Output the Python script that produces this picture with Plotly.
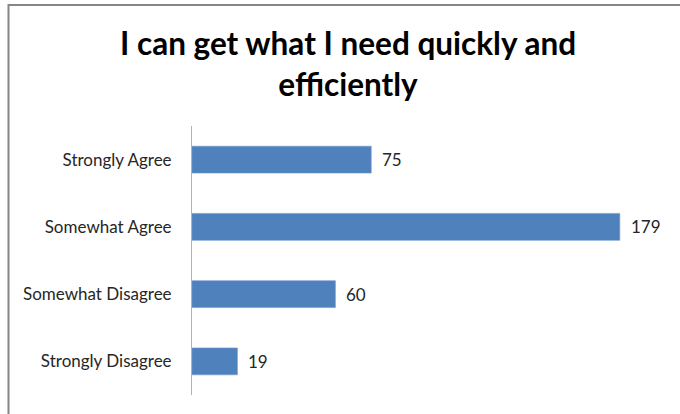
import plotly.graph_objects as go

categories = ["Strongly Agree", "Somewhat Agree", "Somewhat Disagree", "Strongly Disagree"]
values = [75, 179, 60, 19]
title_text = "<b>I can get what I need quickly and</b><br><b>efficiently</b>"

W, H = 680, 414
L, R, T, B = 192, 10, 126, 19
pw, ph = W - L - R, H - T - B

def px_x(px):
    return (px - L) / pw

def px_y(py):
    return (H - B - py) / ph

fig = go.Figure(go.Bar(
    x=values, y=categories, orientation="h",
    marker=dict(color="#4F81BD", line=dict(color="#6F9BD1", width=0.6)),
    width=0.4, hoverinfo="skip",
))

for c, v in zip(categories, values):
    fig.add_annotation(x=v, y=c, xref="x", yref="y", text=str(v), showarrow=False,
                       xanchor="left", yanchor="middle", xshift=9,
                       font=dict(family="Lato", size=17, color="#262626"))

fig.add_annotation(x=px_x(348), y=px_y(64), xref="paper", yref="paper",
                   text=title_text, showarrow=False, xanchor="center", yanchor="middle",
                   font=dict(family="Lato", size=31.5, color="#000000"))

fig.add_shape(type="rect", xref="paper", yref="paper",
              x0=px_x(8.5), y0=-0.3, x1=1.2, y1=px_y(5),
              line=dict(color="#868686", width=2), fillcolor="rgba(0,0,0,0)", layer="below")

fig.update_layout(
    width=W, height=H,
    margin=dict(l=L, r=R, t=T, b=B),
    paper_bgcolor="white", plot_bgcolor="white",
    showlegend=False,
    xaxis=dict(range=[0, 200], showgrid=False, zeroline=False, showticklabels=False,
               ticks="", showline=False),
    yaxis=dict(categoryorder="array", categoryarray=categories[::-1],
               range=[-0.5, 3.5], showgrid=False, zeroline=False,
               showline=True, linecolor="#B3B3B3", linewidth=1,
               ticks="outside", ticklen=16, tickcolor="rgba(0,0,0,0)",
               tickfont=dict(family="Lato", size=17, color="#262626")),
)

fig.write_html("out.html")
